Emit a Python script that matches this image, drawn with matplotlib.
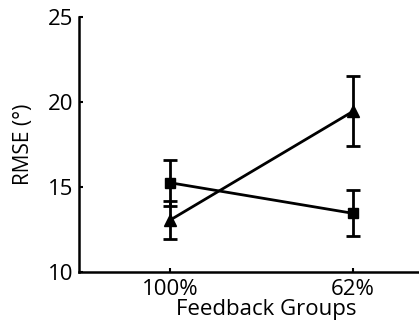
import matplotlib
matplotlib.use("Agg")
import matplotlib.pyplot as plt

# feedback groups and RMSE means / error bars
groups = ["100%", "62%"]
square_rmse = [15.25, 13.45]
square_err = [1.35, 1.35]
triangle_rmse = [13.05, 19.45]
triangle_err = [1.1, 2.05]

plt.rcParams["font.family"] = ["Open Sans", "DejaVu Sans"]

fig = plt.figure(figsize=(4.19, 3.25), dpi=100)
ax = fig.add_axes([0.1885, 0.163, 0.8115, 0.785])

x = [1, 2]
ax.errorbar(x, square_rmse, yerr=square_err, color="black", marker="s",
            markersize=7, linewidth=2, elinewidth=2, capsize=5, capthick=2)
ax.errorbar(x, triangle_rmse, yerr=triangle_err, color="black", marker="^",
            markersize=8, linewidth=2, elinewidth=2, capsize=5, capthick=2)

ax.set_xlim(0.503, 2.36)
ax.set_ylim(10, 25)
ax.set_yticks([10, 15, 20, 25])
ax.set_xticks(x)
ax.set_xticklabels(groups)
ax.tick_params(direction="in", length=3, width=1.5, labelsize=16)
ax.tick_params(axis="y", pad=4)
ax.tick_params(axis="x", pad=5)

for side in ["top", "right"]:
    ax.spines[side].set_visible(False)
for side in ["left", "bottom"]:
    ax.spines[side].set_linewidth(1.8)

ax.set_xlabel("Feedback Groups", fontsize=16)
ax.xaxis.set_label_coords(0.55, -0.105, transform=ax.transAxes)
ax.xaxis.label.set_va("top")
ax.set_ylabel("RMSE (°)", fontsize=15, labelpad=10)

fig.savefig("out.png", dpi=100)
